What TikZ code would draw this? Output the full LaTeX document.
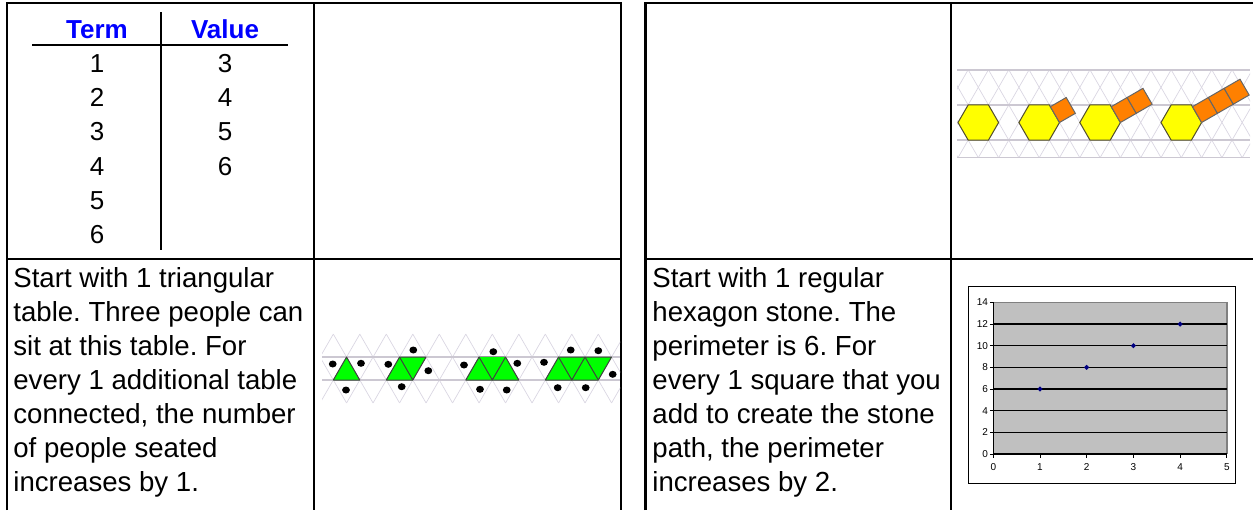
\documentclass[tikz,border=0pt]{standalone}
\usepackage{fontspec}
\setmainfont{Liberation Sans}
\frenchspacing

\definecolor{headblue}{RGB}{0,0,255}
\definecolor{tablegreen}{RGB}{0,255,0}
\definecolor{stoneyellow}{RGB}{255,255,0}
\definecolor{squareorange}{RGB}{255,128,0}
\definecolor{latticegray}{RGB}{218,214,226}
\definecolor{rowgray}{RGB}{204,200,210}
\definecolor{plotgray}{RGB}{192,192,192}
\definecolor{pointblue}{RGB}{0,0,128}

\tikzset{
	border/.style={line width=1.1pt},
	rule/.style={line width=0.8pt},
	head/.style={anchor=base, inner sep=0pt, text=headblue, font=\bfseries\fontsize{13}{15}\selectfont},
	num/.style={anchor=base, inner sep=0pt, font=\fontsize{13}{15}\selectfont},
	body/.style={anchor=base west, inner sep=0pt, font=\fontsize{13.8}{17}\selectfont},
	lattice/.style={draw=latticegray, line width=0.35pt},
	rowline/.style={draw=rowgray, line width=0.8pt},
	tabletop/.style={fill=tablegreen, draw=black!75, line width=0.5pt, line join=round},
	seat/.style={fill=black},
	hexstone/.style={fill=stoneyellow, draw=black!55!olive, line width=0.5pt},
	pathsquare/.style={fill=squareorange, draw=black!60, line width=0.5pt},
	ticklabel/.style={inner sep=0pt, font=\fontsize{5}{5}\selectfont},
}

\begin{document}
\begin{tikzpicture}[x=0.5pt, y=-0.5pt]
	\useasboundingbox (0,0) rectangle (1253,510);

	% Cell borders, left table
	\draw[border] (7,510) -- (7,3) -- (621,3) -- (621,510);
	\draw[border] (314,3) -- (314,510);
	\draw[border] (7,259) -- (621,259);

	% Cell borders, right table
	\draw[border] (645.5,510) -- (645.5,3) -- (1253,3);
	\draw[border] (951,3) -- (951,510);
	\draw[border] (645.5,259) -- (1253,259);

	% Term / value table
	\node[head] (term) at (97,38) {Term};
	\node[head] (value) at (225,38) {Value};
	\draw[rule] (32,45) -- (288,45);
	\draw[rule] (161,12) -- (161,250);
	\foreach \tm/\vl [count=\i] in {1/3,2/4,3/5,4/6,5/,6/} {
		\node[num] (term\i) at (97,{38+34.3*\i}) {\tm};
		\node[num] (value\i) at (225,{38+34.3*\i}) {\vl};
	}

	% Description of the triangular tables
	\foreach \txt [count=\i] in {Start with 1 triangular, table. Three people can,
		sit at this table. For, every 1 additional table, {connected, the number},
		of people seated, increases by 1.}
		\node[body] (tables\i) at (13,{253+34*\i}) {\txt};

	% Description of the stone path
	\foreach \txt [count=\i] in {Start with 1 regular, hexagon stone. The,
		perimeter is 6. For, every 1 square that you, add to create the stone,
		{path, the perimeter}, increases by 2.}
		\node[body] (stones\i) at (652,{253+34*\i}) {\txt};

	% Triangle grid behind the tables
	\def\tx{333.3}
	\def\ts{26.5}
	\def\th{22.95}
	\begin{scope}
		\clip (322,330) rectangle (620,406);
		\foreach \k in {-2,...,12} {
			\draw[lattice] ({\tx+\k*\ts-0.5*\ts},{380+\th}) -- ({\tx+\k*\ts+\ts},{380-2*\th});
			\draw[lattice] ({\tx+\k*\ts+0.5*\ts},{380+\th}) -- ({\tx+\k*\ts-\ts},{380-2*\th});
		}
		\draw[rowline] (322,{380-\th}) -- (620,{380-\th});
		\draw[rowline] (322,380) -- (620,380);
	\end{scope}
	\foreach \k in {0,...,11} {
		\coordinate (b\k) at ({\tx+\k*\ts},380);
		\coordinate (t\k) at ({\tx+\k*\ts+0.5*\ts},{380-\th});
	}

	% Tables: 1, 2, 3 and 4 triangles
	\draw[tabletop] (b0) -- (b1) -- (t0) -- cycle;
	\draw[tabletop] (b2) -- (b3) -- (t3) -- (t2) -- cycle;
	\draw[tabletop] (b5) -- (b7) -- (t6) -- (t5) -- cycle;
	\draw[tabletop] (b8) -- (b10) -- (t10) -- (t8) -- cycle;
	\draw[tabletop] (b3) -- (t2);
	\draw[tabletop] (t5) -- (b6) -- (t6);
	\draw[tabletop] (t8) -- (b9) -- (t9) -- (b10);

	% People round the tables
	\foreach \x/\y in {332.7/364, 361/363.3, 346/390,
		413.3/350, 388.3/364.3, 428.3/370.7, 401.7/386.7,
		493.3/351.7, 464/365, 517.3/363.3, 480/389.3, 506.7/390,
		570.7/350, 598.3/350.7, 544/362.3, 612.7/374.3, 557.7/387.7, 585.7/387.7}
		\fill[seat] (\x,\y) ellipse (3.9 and 3.5);

	% Triangle grid behind the stones
	\def\hx{978.3}
	\def\hy{122.5}
	\def\hs{20.3}
	\def\hh{17.58}
	\def\qs{18.3}
	\begin{scope}
		\clip (957,66) rectangle (1250,160);
		\foreach \k in {-3,...,17} {
			\draw[lattice] ({\hx+\k*\hs-\hs},{\hy+2*\hh}) -- ({\hx+\k*\hs+1.5*\hs},{\hy-3*\hh});
			\draw[lattice] ({\hx+\k*\hs+\hs},{\hy+2*\hh}) -- ({\hx+\k*\hs-1.5*\hs},{\hy-3*\hh});
		}
		\foreach \j in {-3,-1,1,2}
			\draw[rowline] (957,{\hy+\j*\hh}) -- (1250,{\hy+\j*\hh});
	\end{scope}

	% Hexagon stones
	\foreach \c in {0,3,6,10}
		\draw[hexstone] ({\hx+\c*\hs},\hy) +(0:\hs) -- +(60:\hs) -- +(120:\hs)
			-- +(180:\hs) -- +(240:\hs) -- +(300:\hs) -- cycle;

	% Square stones on the upper right edge
	\foreach \c/\n in {3/1,6/2,10/3}
		\foreach \k in {1,...,\n}
			\draw[pathsquare] ({\hx+\c*\hs},\hy) ++(0:\hs) ++(-30:{(\k-1)*\qs})
				-- ++(-120:\qs) -- ++(-30:\qs) -- ++(60:\qs) -- cycle;

	% Chart of the perimeter
	\def\px{993.3}
	\def\py{454}
	\def\dx{46.7}
	\def\dy{10.83}
	\draw[line width=0.5pt] (968,286) rectangle (1235,483);
	\fill[plotgray] (\px,\py) rectangle ({\px+5*\dx},{\py-14*\dy});
	\draw[gray, line width=0.7pt] (\px,{\py-14*\dy}) -- ({\px+5*\dx},{\py-14*\dy}) -- ({\px+5*\dx},\py);
	\foreach \v in {2,4,...,12}
		\draw[line width=0.55pt] (\px,{\py-\v*\dy}) -- ({\px+5*\dx},{\py-\v*\dy});
	\draw[line width=0.55pt] (\px,{\py-14*\dy}) -- (\px,\py) -- ({\px+5*\dx},\py);
	\foreach \v in {0,2,...,14} {
		\draw[line width=0.5pt] ({\px-3.5},{\py-\v*\dy}) -- (\px,{\py-\v*\dy});
		\node[ticklabel, anchor=east] (ylab\v) at ({\px-5},{\py-\v*\dy}) {\v};
	}
	\foreach \v in {0,...,5} {
		\draw[line width=0.5pt] ({\px+\v*\dx},\py) -- ({\px+\v*\dx},{\py+3.5});
		\node[ticklabel, anchor=north] (xlab\v) at ({\px+\v*\dx},{\py+9}) {\v};
	}
	\foreach \n/\p in {1/6,2/8,3/10,4/12}
		\fill[pointblue] ({\px+\n*\dx},{\py-\p*\dy}) +(-2.6,0) -- +(0,-2.6) -- +(2.6,0) -- +(0,2.6) -- cycle;
\end{tikzpicture}
\end{document}
